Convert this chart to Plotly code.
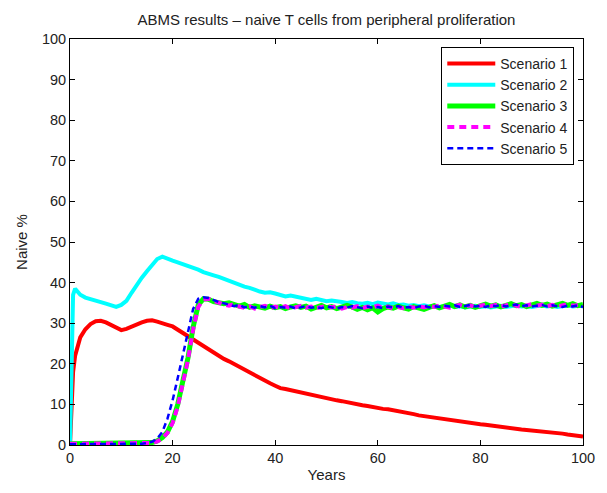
import plotly.graph_objects as go

years = [0, 0.3, 0.6] + list(range(1, 101))

scenario1 = [0, 12, 18, 22, 26.5, 28.5, 29.8, 30.5, 30.6, 30.2, 29.5, 28.8, 28.3,
             28.6, 29.2, 29.7, 30.2, 30.6, 30.7, 30.4, 30.1, 29.6, 29.2,
             28.4, 27.6, 26.8, 25.8, 25.0, 24.3, 23.5, 22.8, 22.0, 21.2,
             20.6, 19.9, 19.2, 18.5, 17.9, 17.2, 16.5, 15.8, 15.2, 14.6,
             14.0, 13.8, 13.5, 13.2, 12.9, 12.6, 12.3, 12.0, 11.8, 11.5,
             11.2, 11.0, 10.8, 10.5, 10.3, 10.0, 9.8, 9.6, 9.3, 9.1,
             8.9, 8.8, 8.6, 8.3, 8.1, 7.9, 7.6, 7.3, 7.1, 6.9,
             6.8, 6.6, 6.4, 6.2, 6.0, 5.9, 5.7, 5.5, 5.3, 5.1,
             5.0, 4.8, 4.6, 4.5, 4.3, 4.1, 4.0, 3.8, 3.7, 3.6,
             3.5, 3.3, 3.2, 3.1, 3.0, 2.8, 2.6, 2.5, 2.3, 2.1]

scenario2 = [0, 20, 37, 38.5, 37.0, 36.3, 36.0, 35.6, 35.2, 34.8, 34.3, 34.0, 34.5,
             35.5, 37.5, 39.5, 41.2, 42.8, 44.5, 45.8, 46.4, 45.8, 45.4,
             45.0, 44.6, 44.0, 43.6, 43.2, 42.6, 42.3, 41.8, 41.4, 40.9,
             40.6, 40.0, 39.6, 39.0, 38.7, 38.2, 37.8, 37.5, 37.6, 37.3,
             36.9, 36.6, 36.8, 36.5, 36.1, 36.0, 35.7, 36.0, 35.6, 35.4,
             35.6, 35.3, 35.2, 35.0, 35.2, 34.9, 34.8, 35.0, 34.7, 35.1,
             34.8, 34.6, 34.9, 34.5, 34.6, 34.3, 34.5, 34.2, 34.4, 34.1,
             34.3, 34.0, 34.2, 34.4, 34.0, 34.2, 33.9, 34.1, 34.3, 34.0,
             34.2, 33.9, 34.1, 34.3, 34.0, 34.2, 34.4, 34.1, 34.3, 34.0,
             34.2, 34.4, 34.1, 34.3, 34.0, 34.2, 34.4, 34.1, 34.3, 34.2]

scenario3 = [0.3, 0.3, 0.3, 0.3, 0.3, 0.4, 0.3, 0.3, 0.4, 0.3, 0.3, 0.4, 0.3,
             0.3, 0.4, 0.4, 0.4, 0.4, 0.6, 1.0, 1.8, 3.2, 5.8,
             10.0, 15.5, 21.5, 29.0, 34.5, 36.0, 35.9, 35.3, 35.1, 34.8,
             35.0, 34.5, 34.2, 34.6, 33.9, 34.3, 34.0, 33.7, 34.2, 33.8,
             34.1, 33.6, 34.0, 34.3, 33.9, 34.2, 33.5, 34.0, 34.4, 33.8,
             34.1, 33.6, 33.9, 34.4, 34.0, 33.4, 33.9, 33.3, 33.8, 32.8,
             33.6, 34.0, 33.7, 34.2, 33.8, 33.5, 34.1, 33.7, 33.4, 33.9,
             34.3, 33.8, 34.2, 34.6, 34.1, 34.5, 34.0, 34.4, 33.9, 34.3,
             34.7, 34.2, 34.5, 34.0, 34.4, 34.8, 34.3, 34.6, 34.1, 34.5,
             34.9, 34.4, 34.7, 34.2, 34.6, 34.9, 34.4, 34.8, 34.3, 34.6]

scenario4 = [0.3, 0.3, 0.3, 0.3, 0.3, 0.3, 0.3, 0.3, 0.3, 0.3, 0.3, 0.3, 0.3,
             0.3, 0.3, 0.3, 0.3, 0.3, 0.5, 0.9, 1.6, 3.0, 5.4,
             9.5, 15.0, 21.0, 28.5, 34.0, 35.8, 36.0, 35.5, 35.0, 34.6,
             34.3, 34.7, 34.1, 33.8, 34.2, 33.6, 34.0, 34.3, 33.7, 34.1,
             33.8, 34.2, 33.6, 33.9, 34.3, 33.8, 34.1, 33.7, 34.0, 34.3,
             33.9, 34.2, 33.6, 34.0, 33.8, 34.2, 33.7, 34.1, 33.9, 34.3,
             33.8, 34.1, 33.6, 34.0, 33.7, 34.1, 33.8, 34.2, 33.9, 34.3,
             34.0, 34.4, 34.1, 33.8, 34.2, 34.5, 34.1, 34.4, 34.0, 34.3,
             34.6, 34.2, 34.5, 34.1, 34.4, 34.7, 34.3, 34.0, 34.4, 34.7,
             34.3, 34.6, 34.2, 34.5, 34.1, 34.4, 34.7, 34.3, 34.5, 34.2]

scenario5 = [0.2, 0.2, 0.2, 0.2, 0.2, 0.2, 0.2, 0.2, 0.2, 0.2, 0.2, 0.2, 0.2,
             0.2, 0.2, 0.2, 0.3, 0.5, 0.8, 1.6, 3.2, 6.5, 11.0,
             16.5, 22.0, 28.0, 33.5, 36.0, 36.4, 36.2, 35.6, 35.2, 34.9,
             34.6, 34.2, 34.5, 33.9, 34.1, 33.8, 34.2, 33.9, 34.3, 33.7,
             34.0, 33.8, 34.1, 33.6, 33.9, 34.2, 33.8, 34.0, 33.7, 34.1,
             33.9, 33.6, 34.0, 33.8, 34.2, 33.9, 33.7, 34.1, 33.8, 34.0,
             33.7, 34.1, 33.9, 34.2, 33.8, 34.0, 33.7, 34.1, 34.3, 33.9,
             34.2, 34.0, 34.3, 34.1, 34.4, 34.0, 34.3, 34.5, 34.1, 34.3,
             34.0, 34.4, 34.2, 34.5, 34.1, 34.3, 34.6, 34.2, 34.4, 34.1,
             34.3, 34.5, 34.1, 34.4, 34.2, 34.0, 34.3, 34.1, 34.4, 34.0]

names = ["Scenario 1", "Scenario 2", "Scenario 3", "Scenario 4", "Scenario 5"]
series = [scenario1, scenario2, scenario3, scenario4, scenario5]
colors = ["#ff0000", "#00ffff", "#00ff00", "#ff00ff", "#0000ff"]
widths = [4, 4, 5, 4, 2.5]
dashes = ["solid", "solid", "solid", "7px,5px", "6px,4px"]

FONT = "Arial, Liberation Sans, sans-serif"

fig = go.Figure()
for n, s, c, w, d in zip(names, series, colors, widths, dashes):
    fig.add_trace(go.Scatter(x=years, y=s, mode="lines", name=n,
                             line=dict(color=c, width=w, dash=d)))

axis_common = dict(showline=True, linecolor="black", linewidth=1, mirror="ticks",
                   ticks="inside", ticklen=5, tickcolor="black", showgrid=False,
                   zeroline=False, tickfont=dict(family=FONT, size=14.5, color="#222"))

fig.update_layout(
    width=607, height=493,
    margin=dict(l=70, r=15, t=39, b=43),
    paper_bgcolor="white", plot_bgcolor="white",
    font=dict(family=FONT, size=15, color="#222"),
    title=dict(text="ABMS results \u2013 naive T cells from peripheral proliferation",
               x=0.5, xref="paper", y=1 - 20 / 493, yref="container",
               yanchor="middle", font=dict(family=FONT, size=15, color="#222")),
    xaxis=dict(range=[0, 100], tickvals=[0, 20, 40, 60, 80, 100],
               title=dict(text="Years", standoff=4,
                          font=dict(family=FONT, size=15, color="#222")),
               **axis_common),
    yaxis=dict(range=[0, 100], tickvals=list(range(0, 101, 10)),
               title=dict(text="Naive %", standoff=10,
                          font=dict(family=FONT, size=15, color="#222")),
               **axis_common),
    legend=dict(x=0.983, y=0.9805, xanchor="right", yanchor="top",
                bordercolor="black", borderwidth=1, bgcolor="white",
                font=dict(family=FONT, size=14, color="#222"),
                itemwidth=48, tracegroupgap=0),
    showlegend=True,
)

fig.write_html("out.html")
